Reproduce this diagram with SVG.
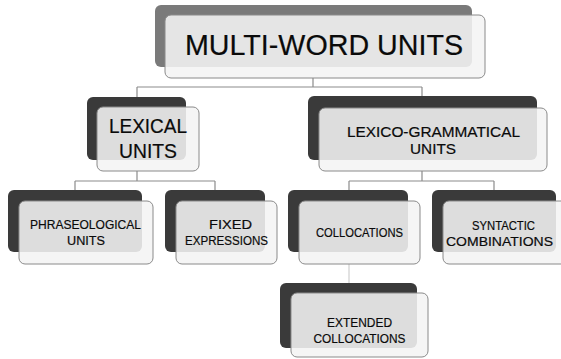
<svg xmlns="http://www.w3.org/2000/svg" width="561" height="359" viewBox="0 0 561 359">
  <style>
    .back { fill: #3a3a3a; }
    .back-top { fill: #7a7a7a; }
    .front { fill: #f4f4f4; fill-opacity: 0.88; stroke: #8a8a8a; stroke-width: 1; }
    .lbl { font-family: "Liberation Sans", Arial, sans-serif; fill: #0a0a0a; stroke: #0a0a0a; stroke-width: 0.2; text-anchor: middle; }
    .link { fill: none; stroke: #8c8c8c; stroke-width: 1.2; }
    .link-soft { fill: none; stroke: #cfcfcf; stroke-width: 1.2; }
  </style>
  <rect width="561" height="359" fill="#ffffff"/>

  <!-- connectors -->
  <g id="connectors">
    <path class="link" d="M313,78 V87 M137,87 H422 M137,87 V97 M422,87 V96"/>
    <path class="link" d="M137,171 V181 M75,181 H215 M75,181 V190 M215,181 V190"/>
    <path class="link" d="M422,171 V181 M349,181 H494 M349,181 V190 M494,181 V190"/>
    <path class="link-soft" d="M349,264 V283"/>
  </g>

  <g id="multi-word-units">
    <rect class="back-top" x="155" y="5" width="317" height="62" rx="6"/>
    <rect class="front" x="165" y="15" width="320" height="63" rx="6"/>
    <text class="lbl" x="324" y="55" font-size="30" textLength="278" lengthAdjust="spacingAndGlyphs">MULTI-WORD UNITS</text>
  </g>

  <g id="lexical-units">
    <rect class="back" x="87" y="97" width="99" height="63" rx="6"/>
    <rect class="front" x="97" y="107" width="102" height="64" rx="6"/>
    <text class="lbl" x="148" y="133" font-size="21" textLength="78" lengthAdjust="spacingAndGlyphs">LEXICAL</text>
    <text class="lbl" x="148" y="158" font-size="21" textLength="58" lengthAdjust="spacingAndGlyphs">UNITS</text>
  </g>

  <g id="lexico-grammatical-units">
    <rect class="back" x="308" y="96" width="229" height="64" rx="6"/>
    <rect class="front" x="319" y="108" width="228" height="63" rx="6"/>
    <text class="lbl" x="433.5" y="136.5" font-size="14.6" textLength="173" lengthAdjust="spacingAndGlyphs">LEXICO-GRAMMATICAL</text>
    <text class="lbl" x="433" y="154" font-size="14.6" textLength="46" lengthAdjust="spacingAndGlyphs">UNITS</text>
  </g>

  <g id="phraseological-units">
    <rect class="back" x="8" y="190" width="134" height="62" rx="6"/>
    <rect class="front" x="19" y="201" width="134" height="63" rx="6"/>
    <text class="lbl" x="85.5" y="229" font-size="13.5" textLength="111" lengthAdjust="spacingAndGlyphs">PHRASEOLOGICAL</text>
    <text class="lbl" x="86" y="245" font-size="13.5" textLength="38" lengthAdjust="spacingAndGlyphs">UNITS</text>
  </g>

  <g id="fixed-expressions">
    <rect class="back" x="165" y="190" width="100" height="62" rx="6"/>
    <rect class="front" x="176" y="201" width="101" height="63" rx="6"/>
    <text class="lbl" x="230.5" y="229" font-size="13.5" textLength="43" lengthAdjust="spacingAndGlyphs">FIXED</text>
    <text class="lbl" x="226.5" y="245" font-size="13.5" textLength="83" lengthAdjust="spacingAndGlyphs">EXPRESSIONS</text>
  </g>

  <g id="collocations">
    <rect class="back" x="288" y="190" width="120" height="62" rx="6"/>
    <rect class="front" x="299" y="201" width="121" height="63" rx="6"/>
    <text class="lbl" x="359.5" y="237" font-size="13.5" textLength="87" lengthAdjust="spacingAndGlyphs">COLLOCATIONS</text>
  </g>

  <g id="syntactic-combinations">
    <rect class="back" x="432" y="190" width="124" height="62" rx="6"/>
    <rect class="front" x="443" y="201" width="124" height="63" rx="6"/>
    <text class="lbl" x="503.5" y="230" font-size="13.5" textLength="63" lengthAdjust="spacingAndGlyphs">SYNTACTIC</text>
    <text class="lbl" x="499.5" y="246" font-size="13.5" textLength="107" lengthAdjust="spacingAndGlyphs">COMBINATIONS</text>
  </g>

  <g id="extended-collocations">
    <rect class="back" x="280" y="283" width="137" height="65" rx="6"/>
    <rect class="front" x="291" y="293" width="137" height="64" rx="6"/>
    <text class="lbl" x="359.5" y="327" font-size="13.5" textLength="65" lengthAdjust="spacingAndGlyphs">EXTENDED</text>
    <text class="lbl" x="359.5" y="343" font-size="13.5" textLength="92" lengthAdjust="spacingAndGlyphs">COLLOCATIONS</text>
  </g>
</svg>
